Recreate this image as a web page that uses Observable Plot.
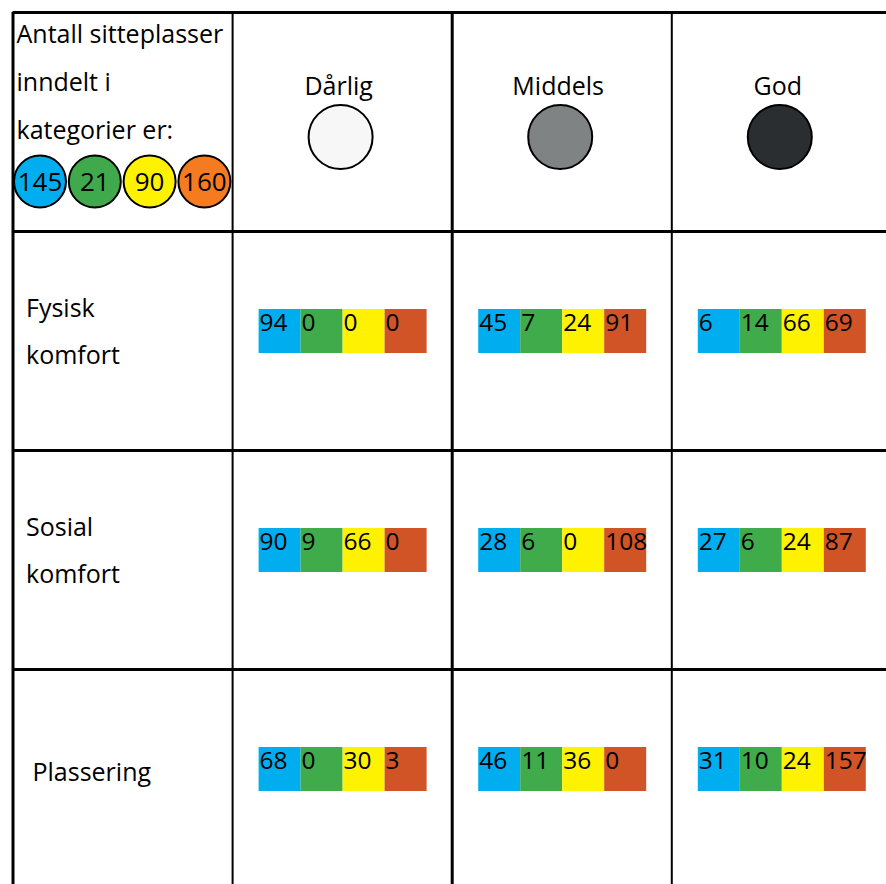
<!DOCTYPE html>
<html>
<head>
<meta charset="utf-8">
<script src="https://cdn.jsdelivr.net/npm/d3@7"></script>
<script src="https://cdn.jsdelivr.net/npm/@observablehq/plot@0.6"></script>
<style>
  html, body { margin: 0; padding: 0; background: #fff; }
  #chart svg { display: block; }
</style>
</head>
<body>
<div id="chart"></div>
<script>
// ---------- data ----------
const titleLines = ["Antall sitteplasser", "inndelt i", "kategorier er:"];
const categories = ["Kategori 1", "Kategori 2", "Kategori 3", "Kategori 4"];
const categoryTotals = [145, 21, 90, 160];
const qualities = ["Dårlig", "Middels", "God"];
const aspects = [["Fysisk", "komfort"], ["Sosial", "komfort"], ["Plassering"]];
// values per quality column (Dårlig, Middels, God), each in category order
const fysiskKomfort = [[94, 0, 0, 0], [45, 7, 24, 91], [6, 14, 66, 69]];
const sosialKomfort = [[90, 9, 66, 0], [28, 6, 0, 108], [27, 6, 24, 87]];
const plassering    = [[68, 0, 30, 3], [46, 11, 36, 0], [31, 10, 24, 157]];
const series = [fysiskKomfort, sosialKomfort, plassering];

// ---------- style ----------
const legendColors = ["#00aeef", "#40a94b", "#fff200", "#f47b20"];
const barColors    = ["#00aeef", "#40ab4a", "#fff200", "#d15427"];
const qualityFills = ["#f7f7f7", "#808384", "#2b2e30"];

// ---------- layout (table grid in cell units) ----------
const CW = 219.6, RH = 219, X0 = 12.5, Y0 = 12;
const px = (col, off) => col + off / CW;
const py = (row, off) => row + off / RH;
const BAR_L = 26.5, SEG_W = 42, BAR_T = 78, BAR_B = 122;

const segs = [];
series.forEach((rowVals, ri) =>
  rowVals.forEach((vals, qi) =>
    vals.forEach((v, ci) => segs.push({row: ri + 1, col: qi + 1, ci, value: v}))));

const titleData = titleLines.map((t, i) => ({t, i}));
const aspectLines = [];
aspects.forEach((lines, ri) => {
  lines.forEach((t, li) => {
    const single = lines.length === 1;
    aspectLines.push({row: ri + 1, t, xo: single ? 19.5 : 13, yo: single ? 103 : 77 + li * 47.5});
  });
});

const chart = Plot.plot({
  width: 886,
  height: 884,
  margin: 0,
  style: {fontFamily: "'Open Sans', sans-serif", background: "#fff", color: "#000"},
  x: {domain: [0, 4], range: [X0, X0 + 4 * CW], axis: null},
  y: {domain: [0, 4], range: [Y0, Y0 + 4 * RH], axis: null},
  color: {type: "identity"},
  marks: [
    // bar segments
    Plot.rect(segs, {
      x1: d => px(d.col, BAR_L + d.ci * SEG_W),
      x2: d => px(d.col, BAR_L + (d.ci + 1) * SEG_W),
      y1: d => py(d.row, BAR_T),
      y2: d => py(d.row, BAR_B),
      fill: d => barColors[d.ci]
    }),
    Plot.text(segs, {
      x: d => px(d.col, BAR_L + d.ci * SEG_W + 0.5),
      y: d => py(d.row, BAR_T + 14),
      text: d => String(d.value),
      textAnchor: "start",
      fontSize: 24.5,
      fill: "#000"
    }),
    // grid
    Plot.ruleX(d3.range(0, 4), {x: d => d, y1: () => 0, y2: () => 4, stroke: "#000", strokeWidth: d => d % 2 === 0 ? 3 : 2}),
    Plot.ruleY(d3.range(0, 4), {y: d => d, x1: () => 0, x2: () => 4, stroke: "#000", strokeWidth: 3}),
    // header: quality labels and circles
    Plot.text(qualities, {
      x: (d, i) => px(i + 1, 106), y: () => py(0, 74), text: d => d, fontSize: 25, fill: "#000"
    }),
    Plot.dot(qualities, {
      x: (d, i) => px(i + 1, 108), y: () => py(0, 124.5), r: 32,
      fill: (d, i) => qualityFills[i], stroke: "#000", strokeWidth: 2
    }),
    // top-left: title + legend
    Plot.text(titleData, {
      x: () => px(0, 3.5), y: d => py(0, 22 + d.i * 48), text: d => d.t,
      textAnchor: "start", fontSize: 25, fill: "#000"
    }),
    Plot.dot(categoryTotals, {
      x: (d, i) => px(0, 27 + i * 54.8), y: () => py(0, 169), r: 26,
      fill: (d, i) => legendColors[i], stroke: "#000", strokeWidth: 2
    }),
    Plot.text(categoryTotals, {
      x: (d, i) => px(0, 27 + i * 54.8), y: () => py(0, 170), text: d => String(d),
      fontSize: 26, fill: "#000"
    }),
    // row labels
    Plot.text(aspectLines, {
      x: d => px(0, d.xo), y: d => py(d.row, d.yo), text: d => d.t,
      textAnchor: "start", fontSize: 25, fill: "#000"
    })
  ]
});
document.getElementById("chart").appendChild(chart);
</script>
</body>
</html>
